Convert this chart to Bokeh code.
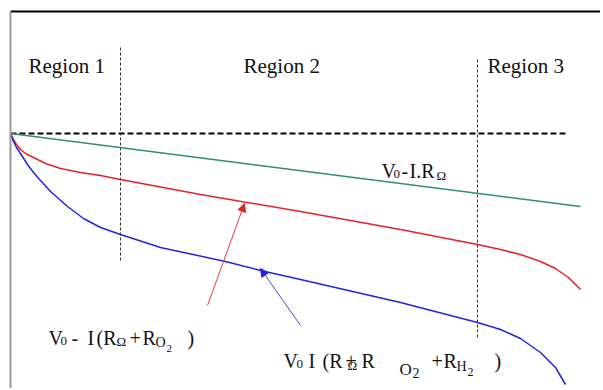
from bokeh.plotting import figure
from bokeh.models import Range1d, LinearAxis, FixedTicker, Arrow, NormalHead
from bokeh.core.properties import value
from bokeh.embed import file_html
from bokeh.resources import INLINE

# ---------------- data (arbitrary current / voltage units) ----------------
v_open = 255                      # V0 level (dashed reference)
ref_i = [0, 555]

ohm_i = [0, 570]                  # V0 - I.R_ohm
ohm_v = [255, 182]

ohm_o2_i = [0, 3, 6, 10, 15, 23, 35, 50, 70, 90, 110, 190, 290, 390, 467, 490, 510, 530, 545, 558, 570]
ohm_o2_v = [255, 249, 244, 239, 235, 231, 225, 220, 216, 213, 209, 194, 177, 159, 144, 139, 134, 127, 120, 111, 99]

full_i = [0, 3, 6, 10, 17, 23, 30, 40, 57, 73, 90, 110, 150, 215, 250, 290, 390, 467, 490, 510, 530, 545, 555]
full_v = [255, 247, 241, 235, 224, 216, 208, 197, 182, 170, 161, 154, 141, 127, 118, 109, 86, 66, 59, 50, 36, 21, 4]

region_bound_i = [110, 467]
region_bound_top = [341, 331]
region_bound_bottom = [128, 51]

region_names = ["Region 1", "Region 2", "Region 3"]

# ---------------- layout helpers (page pixel -> data) ----------------
W, H = 600, 388
L, T = 10, 11
PW, PH = W - L, H - T


def X(px):
    return px - L


def Y(py):
    return H - py


p = figure(width=W, height=H, output_backend="svg", toolbar_location=None,
           x_range=Range1d(0, PW), y_range=Range1d(0, PH),
           x_axis_location=None, y_axis_location=None,
           min_border_left=L, min_border_top=T, min_border_right=0, min_border_bottom=0)
p.outline_line_color = None
p.background_fill_color = "white"
p.border_fill_color = "white"
p.grid.visible = False

# frame: black top, grey left
for loc, col in (("above", "black"), ("left", "#9a9a9a")):
    ax = LinearAxis(ticker=FixedTicker(ticks=[]), axis_line_color=col, axis_line_width=2,
                    major_tick_out=0, major_tick_in=0, minor_tick_out=0, minor_tick_in=0,
                    major_label_standoff=0, major_label_text_font_size="0px")
    p.add_layout(ax, loc)

# dashed V0 reference
p.line(ref_i, [v_open, v_open], line_color="black", line_width=2, line_dash="6 3")

# region boundaries
for xi, yt, yb in zip(region_bound_i, region_bound_top, region_bound_bottom):
    p.line([xi, xi], [yb, yt], line_color="#333333", line_width=1, line_dash="3 2")

# curves
p.line(ohm_i, ohm_v, line_color="#2e8f6a", line_width=1.5)
p.line(ohm_o2_i, ohm_o2_v, line_color="#e8202a", line_width=1.5)
p.line(full_i, full_v, line_color="#2424d8", line_width=1.5)

# arrows
p.add_layout(Arrow(x_start=X(207), y_start=Y(305), x_end=X(244), y_end=Y(203),
                   line_color="#e83a44", line_width=1,
                   end=NormalHead(size=8, fill_color="#e8202a", line_color="#e8202a")))
p.add_layout(Arrow(x_start=X(300), y_start=Y(325), x_end=X(260), y_end=Y(268),
                   line_color="#4a4ad0", line_width=1,
                   end=NormalHead(size=8, fill_color="#2424d8", line_color="#2424d8")))

# ---------------- texts ----------------
pieces = []  # (text, px, baseline py, size)
for name, px in zip(region_names, [28, 243, 487]):
    pieces.append((name, px, 65, 21))

# V0 - I.R_ohm
pieces += [("V", 381, 170, 20), ("0", 393, 173, 13), ("-", 401, 170, 20),
           ("I.R", 409, 170, 20), ("\u03a9", 436, 175, 13)]
# V0 - I(R_ohm + R_O2)
pieces += [("V", 48, 337, 20), ("0", 60, 340, 13), ("-", 71, 337, 20),
           ("I", 87, 337, 20), ("(R", 96, 337, 20), ("\u03a9", 116, 341, 13),
           ("+", 129, 337, 20), ("R", 142, 337, 20), ("O", 155, 342, 14),
           ("2", 166, 348, 11), (")", 187, 337, 20)]
# V0 I(R + R_ohm R O2 + R_H2)
pieces += [("V", 283, 360, 20), ("0", 296, 363, 13), ("I", 308, 360, 20),
           ("(R", 322, 360, 20), ("+", 345, 360, 20), ("\u03a9", 347, 365, 13),
           ("R", 361, 360, 20), ("O", 399, 369, 17), ("2", 412, 372, 14),
           ("+", 431, 360, 20), ("R", 443, 360, 20), ("H", 456, 366, 14),
           ("2", 467, 371, 12), (")", 494, 360, 20)]

for size in sorted(set(q[3] for q in pieces)):
    sel = [q for q in pieces if q[3] == size]
    p.text(x=[X(q[1]) for q in sel], y=[Y(q[2]) for q in sel], text=[q[0] for q in sel],
           text_font=value("Liberation Serif"), text_font_size="%dpx" % size,
           text_color="#111111", text_align="left", text_baseline="alphabetic")

open("out.html", "w").write(file_html(p, INLINE))
